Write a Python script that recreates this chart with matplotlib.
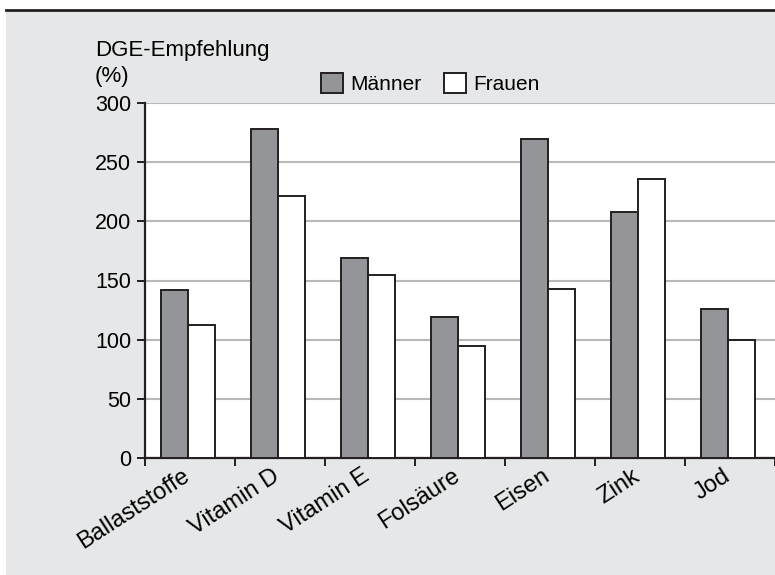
import numpy as np
import matplotlib
matplotlib.use("Agg")
from matplotlib import pyplot as plt
from matplotlib.patches import Rectangle
from matplotlib.lines import Line2D

plt.rcParams['font.family'] = ['Liberation Sans', 'DejaVu Sans']
plt.rcParams['font.size'] = 16

# data
categories = ["Ballaststoffe", "Vitamin D", "Vitamin E", "Folsäure", "Eisen", "Zink", "Jod"]
maenner = [142, 278, 169, 119, 270, 208, 126]
frauen = [112, 221, 155, 95, 143, 236, 100]
series_names = ["Männer", "Frauen"]

fig = plt.figure(figsize=(7.75, 5.75), dpi=100, facecolor="white")

# gray panel + black top rule
fig.patches.append(Rectangle((6 / 775, 0), 1, 1 - 11 / 575, transform=fig.transFigure,
                             facecolor="#e6e7e8", edgecolor="none", zorder=-10))
fig.lines.append(Line2D([6 / 775, 1], [1 - 10 / 575, 1 - 10 / 575], transform=fig.transFigure,
                        color="#231f20", lw=2, zorder=-5))

ax = fig.add_axes([145 / 775, 1 - 458 / 575, 1 - 145 / 775, 355 / 575])
ax.set_facecolor("white")

x = np.arange(len(categories)) + 0.48
w = 0.3
ax.bar(x - w / 2, maenner, w, color="#939598", edgecolor="#231f20", lw=1.4,
       label=series_names[0], zorder=3)
ax.bar(x + w / 2, frauen, w, color="white", edgecolor="#231f20", lw=1.4,
       label=series_names[1], zorder=3)

ax.set_xlim(0, len(categories))
ax.set_ylim(0, 300)
ax.set_yticks(np.arange(0, 301, 50))
ax.yaxis.grid(True, color="#b8b8b8", lw=1.5, zorder=0)
ax.set_axisbelow(True)

# label anchors sit a bit left of the group centre, rotated text sticks out to the right
ax.set_xticks(np.arange(len(categories)) + 0.41)
ax.set_xticklabels(categories, rotation=33, ha="right", va="top", rotation_mode="anchor",
                   fontsize=17)
ax.set_xticks(np.arange(len(categories) + 1), minor=True)
ax.tick_params(axis="x", which="major", length=0, pad=5)
ax.tick_params(axis="x", which="minor", length=6, width=1.4, color="#231f20")
ax.tick_params(axis="y", length=6, width=1.4, color="#231f20", pad=4, labelsize=15.5)

for s in ["top", "right"]:
    ax.spines[s].set_visible(False)
for s in ["left", "bottom"]:
    ax.spines[s].set_color("#231f20")
    ax.spines[s].set_linewidth(1.6)

fig.text(95 / 775, 1 - 40 / 575, "DGE-Empfehlung\n(%)", ha="left", va="top", linespacing=1.3)

ax.legend(loc="center", bbox_to_anchor=(0.453, 1.054), ncol=2, frameon=False, fontsize=15,
          handlelength=1.05, handleheight=1.05, handletextpad=0.35, columnspacing=1.1,
          borderaxespad=0)

fig.savefig("out.png", dpi=100, facecolor=fig.get_facecolor())
